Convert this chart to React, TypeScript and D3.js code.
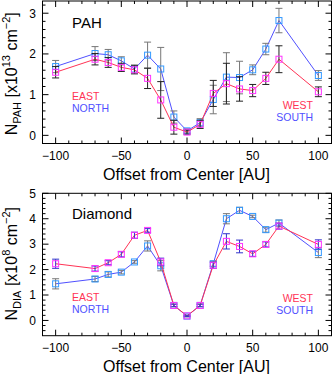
import React from 'react'
import * as d3 from 'd3'

// offsets along the cut, in AU
const offsets = [-100, -70, -60, -50, -40, -30, -20, -10, 0, 10, 20, 30, 40, 50, 60, 70, 100]

// PAH column density [x10^13 cm^-2]; red = east/west, blue = north/south
const pahRed = [1.55, 1.87, 1.79, 1.67, 1.61, 1.40, 0.87, 0.20, 0.08, 0.27, 1.03, 1.27, 1.14, 1.10, 1.40, 1.87, 1.07]
const pahRedErr = [0.14, 0.14, 0.12, 0.1, 0.1, 0.25, 0.45, 0.17, 0.05, 0.1, 0.32, 0.5, 0.3, 0.15, 0.15, 0.33, 0.12]
const pahBlue = [1.69, 2.01, 1.98, 1.83, 1.63, 1.97, 1.63, 0.45, 0.11, 0.31, 0.88, 1.43, 1.42, 1.61, 2.12, 2.82, 1.47]
const pahBlueErr = [0.15, 0.17, 0.13, 0.1, 0.1, 0.32, 0.53, 0.15, 0.05, 0.1, 0.35, 0.6, 0.4, 0.12, 0.14, 0.3, 0.12]

// diamond column density [x10^8 cm^-2]
const diaRed = [2.23, 2.04, 2.27, 2.60, 3.35, 3.54, 2.30, 0.59, 0.18, 0.59, 2.17, 3.11, 2.91, 2.62, 2.99, 3.71, 2.99]
const diaRedErr = [0.18, 0.1, 0.08, 0.1, 0.12, 0.07, 0.15, 0.05, 0.03, 0.05, 0.12, 0.3, 0.25, 0.1, 0.1, 0.12, 0.18]
const diaBlue = [1.44, 1.63, 1.81, 1.90, 2.30, 2.93, 2.15, 0.59, 0.17, 0.59, 2.23, 4.0, 4.33, 4.09, 3.57, 3.83, 2.67]
const diaBlueErr = [0.2, 0.1, 0.1, 0.07, 0.05, 0.2, 0.2, 0.05, 0.03, 0.05, 0.1, 0.2, 0.12, 0.05, 0.1, 0.12, 0.2]

const xTicks = [-100, -50, 0, 50, 100]

const FONT = 'Liberation Sans, Arial, Helvetica, sans-serif'
const RED_LINE = '#ff3355'
const RED_SQ = '#ff33ff'
const BLUE_LINE = '#5050ff'
const BLUE_SQ = '#3399ff'

const x = d3.scaleLinear().domain([-110, 110]).range([42.5, 331.5])

type PanelProps = {
  top: number
  bottom: number
  yDomain: [number, number]
  yTicks: number[]
  red: number[]
  redErr: number[]
  blue: number[]
  blueErr: number[]
  redErrColor: string
  blueErrColor: string
  label: string
  sub: string
  exp: string
  labelY: number
  eastY: number
  westY: number
}

function Panel(p: PanelProps) {
  const y = d3.scaleLinear().domain(p.yDomain).range([p.bottom, p.top])
  const left = x.range()[0], right = x.range()[1]
  const line = d3.line<number>().x((d, i) => x(offsets[i])).y(d => y(d))

  const minorX = d3.range(-110, 111, 10)
  const minorY = d3.range(Math.ceil(p.yDomain[0] / 0.2), Math.floor(p.yDomain[1] / 0.2) + 1).map(k => +(k * 0.2).toFixed(1))

  const series = (vals: number[], errs: number[], lineCol: string, sqCol: string, errCol: string, key: string) => (
    <g key={key}>
      <path d={line(vals) || ''} fill="none" stroke={lineCol} strokeWidth={1} />
      {vals.map((v, i) => {
        const cx = x(offsets[i])
        const y1 = y(v + errs[i]), y2 = y(v - errs[i])
        return (
          <g key={i} stroke={errCol} strokeWidth={1}>
            <line x1={cx} x2={cx} y1={y1} y2={y2} />
            <line x1={cx - 3.5} x2={cx + 3.5} y1={y1} y2={y1} />
            <line x1={cx - 3.5} x2={cx + 3.5} y1={y2} y2={y2} />
          </g>
        )
      })}
      {vals.map((v, i) => (
        <rect key={'s' + i} x={x(offsets[i]) - 3} y={y(v) - 3} width={6} height={6}
          fill="none" stroke={sqCol} strokeWidth={1} />
      ))}
    </g>
  )

  return (
    <g fontFamily={FONT}>
      {series(p.blue, p.blueErr, BLUE_LINE, BLUE_SQ, p.blueErrColor, 'b')}
      {series(p.red, p.redErr, RED_LINE, RED_SQ, p.redErrColor, 'r')}

      <rect x={left} y={p.top} width={right - left} height={p.bottom - p.top} fill="none" stroke="#000" strokeWidth={1} />

      {minorX.map(t => {
        const major = xTicks.includes(t)
        const len = major ? 6 : 3
        return (
          <g key={'xt' + t} stroke="#000" strokeWidth={1}>
            <line x1={x(t)} x2={x(t)} y1={p.bottom} y2={p.bottom - len} />
            <line x1={x(t)} x2={x(t)} y1={p.top} y2={p.top + len} />
          </g>
        )
      })}
      {minorY.map(t => {
        const major = p.yTicks.includes(t)
        const len = major ? 6 : 3
        return (
          <g key={'yt' + t} stroke="#000" strokeWidth={1}>
            <line x1={left} x2={left + len} y1={y(t)} y2={y(t)} />
            <line x1={right} x2={right - len} y1={y(t)} y2={y(t)} />
          </g>
        )
      })}

      {xTicks.map(t => (
        <text key={'xl' + t} x={x(t)} y={p.bottom + 16} fontSize={12} textAnchor="middle">
          {d3.format('d')(t)}
        </text>
      ))}
      {p.yTicks.map(t => (
        <text key={'yl' + t} x={36} y={y(t) + 4.3} fontSize={12} textAnchor="end">{t}</text>
      ))}

      <text x={186.5} y={p.bottom + 36} fontSize={16} textAnchor="middle">
        Offset from Center [AU]
      </text>

      <text transform={`translate(17,${y(0)}) rotate(-90)`} fontSize={16}>
        N<tspan dy={4} fontSize={11}>{p.sub}</tspan>
        <tspan dy={-4}> [x10</tspan>
        <tspan dy={-7} fontSize={11}>{p.exp}</tspan>
        <tspan dy={7}> cm</tspan>
        <tspan dy={-7} fontSize={11}>−2</tspan>
        <tspan dy={7}>]</tspan>
      </text>

      <text x={72} y={p.labelY} fontSize={15}>{p.label}</text>

      <text x={72} y={p.eastY} fontSize={10.5} fill={RED_LINE}>EAST</text>
      <text x={72} y={p.eastY + 12} fontSize={10.5} fill={BLUE_LINE}>NORTH</text>
      <text x={313} y={p.westY} fontSize={10.5} fill={RED_LINE} textAnchor="end">WEST</text>
      <text x={313} y={p.westY + 12} fontSize={10.5} fill={BLUE_LINE} textAnchor="end">SOUTH</text>
    </g>
  )
}

export default function App() {
  return (
    <div style={{ position: 'fixed', left: 0, top: 0 }}>
      <svg width={332} height={374} style={{ display: 'block', background: '#fff' }}>
        <Panel top={1} bottom={143.5} yDomain={[-0.2, 3.3]} yTicks={[0, 1, 2, 3]}
          red={pahRed} redErr={pahRedErr} blue={pahBlue} blueErr={pahBlueErr}
          redErrColor="#222" blueErrColor="#777"
          label="PAH" sub="PAH" exp="13" labelY={28} eastY={100} westY={109} />
        <Panel top={193.3} bottom={335.7} yDomain={[-0.6, 5]} yTicks={[0, 1, 2, 3, 4, 5]}
          red={diaRed} redErr={diaRedErr} blue={diaBlue} blueErr={diaBlueErr}
          redErrColor="#3333cc" blueErrColor="#777"
          label="Diamond" sub="DIA" exp="8" labelY={219} eastY={300.5} westY={301.5} />
      </svg>
    </div>
  )
}
